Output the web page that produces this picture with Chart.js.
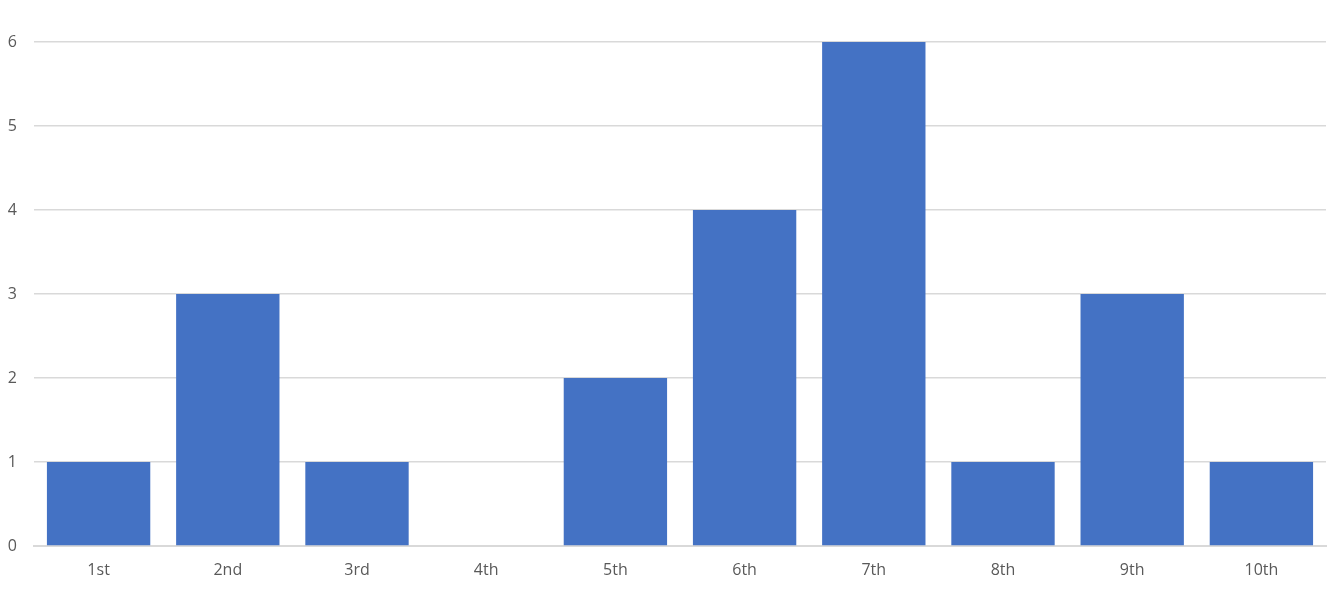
<!DOCTYPE html>
<html>
<head>
<meta charset="utf-8">
<script src="https://cdn.jsdelivr.net/npm/chart.js@4"></script>
<style>
  html, body { margin: 0; padding: 0; background: #fff; }
  #wrap { width: 1342px; height: 590px; }
</style>
</head>
<body>
<div id="wrap"><canvas id="barChart" width="1342" height="590"></canvas></div>
<script>
const categories = ["1st", "2nd", "3rd", "4th", "5th", "6th", "7th", "8th", "9th", "10th"];
const counts = [1, 3, 1, 0, 2, 4, 6, 1, 3, 1];
const yTicks = [0, 1, 2, 3, 4, 5, 6];

const ctx = document.getElementById("barChart").getContext("2d");

new Chart(ctx, {
    type: "bar",
    data: {
        labels: categories,
        datasets: [{
            data: counts,
            backgroundColor: "#4472C4",
            borderWidth: 0,
            barPercentage: 0.8,
            categoryPercentage: 1
        }]
    },
    options: {
        responsive: false,
        animation: false,
        layout: { padding: { top: 42, right: 16, bottom: 0, left: 0 } },
        plugins: {
            legend: { display: false },
            tooltip: { enabled: false }
        },
        scales: {
            x: {
                grid: { display: false, drawTicks: false },
                border: { color: "#d9d9d9", width: 2 },
                ticks: {
                    color: "#595959",
                    font: { family: "Open Sans", size: 16 },
                    padding: 15,
                    maxRotation: 0
                },
                afterFit: scale => { scale.height = 44; }
            },
            y: {
                min: 0,
                max: 6,
                afterBuildTicks: scale => {
                    scale.ticks = yTicks.map(v => ({ value: v }));
                },
                grid: { color: "#d9d9d9", lineWidth: 1.5, drawTicks: false },
                border: { display: false },
                ticks: {
                    color: "#595959",
                    font: { family: "Open Sans", size: 16 },
                    padding: 17
                },
                afterFit: scale => { scale.width = 34; }
            }
        }
    }
});
</script>
</body>
</html>
